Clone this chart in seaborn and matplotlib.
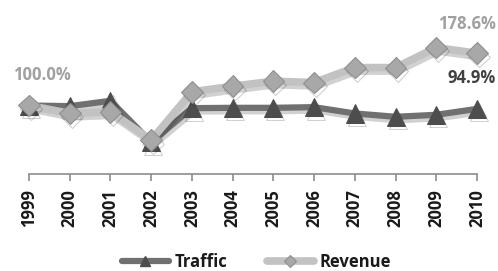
import matplotlib
matplotlib.use("Agg")
import matplotlib.pyplot as plt
import matplotlib.patheffects as pe
from matplotlib.lines import Line2D
import seaborn as sns
import pandas as pd

years = [1999, 2000, 2001, 2002, 2003, 2004, 2005, 2006, 2007, 2008, 2009, 2010]
traffic = [100.0, 99.0, 107.0, 45.0, 96.0, 96.5, 96.5, 97.5, 88.0, 83.0, 86.0, 94.9]
revenue = [100.0, 88.0, 90.5, 48.0, 120.5, 129.0, 136.5, 134.5, 157.0, 157.0, 187.0, 178.6]
labels = {"first": "100.0%", "rev_last": "178.6%", "traf_last": "94.9%"}

sns.set_theme(style="white")
plt.rcParams['font.family'] = ['Open Sans', 'DejaVu Sans']

df = pd.DataFrame({"Year": years * 2,
                   "Value": traffic + revenue,
                   "Series": ["Traffic"] * len(years) + ["Revenue"] * len(years)})

fig = plt.figure(figsize=(4.98, 2.71), dpi=100)
ax = fig.add_axes([29 / 498, 1 - 174 / 271, (477 - 29) / 498, 174 / 271])

shadow = [pe.SimpleLineShadow(offset=(1.5, -2.5), shadow_color='k', alpha=0.2), pe.Normal()]

t_style = dict(color="#707070", linewidth=4.5, marker="^",
               markerfacecolor="#4d4d4d", markeredgecolor="#4d4d4d")
r_style = dict(color="#c2c2c2", linewidth=5.5, marker="D",
               markerfacecolor="#a8a8a8", markeredgecolor="#8f8f8f", markeredgewidth=0.8)

sns.lineplot(data=df[df.Series == "Traffic"], x="Year", y="Value", ax=ax,
             markersize=13, zorder=2, **t_style)
sns.lineplot(data=df[df.Series == "Revenue"], x="Year", y="Value", ax=ax,
             markersize=11, zorder=3, **r_style)
for ln in ax.get_lines():
    ln.set_path_effects(shadow)
    ln.set_clip_on(False)

ax.set_xlim(1999, 2010)
ax.set_ylim(-3, 258.6)
ax.set_xticks(years)
ax.set_xticklabels([str(y) for y in years], rotation=90, fontsize=12,
                   fontweight="bold", color="#1a1a1a")
ax.set_yticks([])
ax.set_xlabel("")
ax.set_ylabel("")
for s in ["top", "right", "left"]:
    ax.spines[s].set_visible(False)
ax.spines["bottom"].set_color("#8c8c8c")
ax.spines["bottom"].set_linewidth(1.2)
ax.tick_params(axis="x", bottom=True, length=5, width=1.2, color="#8c8c8c", pad=6)

ax.annotate(labels["first"], xy=(years[0], revenue[0]), xytext=(9, 22),
            textcoords="offset points", ha="center", va="center",
            fontsize=12, fontweight="bold", color="#a0a0a0")
ax.annotate(labels["rev_last"], xy=(years[-1], revenue[-1]), xytext=(-7, 21),
            textcoords="offset points", ha="center", va="center",
            fontsize=12, fontweight="bold", color="#a0a0a0")
ax.annotate(labels["traf_last"], xy=(years[-1], traffic[-1]), xytext=(-4, 22),
            textcoords="offset points", ha="center", va="center",
            fontsize=12, fontweight="bold", color="#404040")

handles = [Line2D([], [], markersize=7, **t_style),
           Line2D([], [], markersize=6, **r_style)]
leg = fig.legend(handles, ["Traffic", "Revenue"], loc="center",
                 bbox_to_anchor=(0.515, 9 / 271),
                 ncol=2, frameon=False, handlelength=2.8, columnspacing=2.4,
                 handletextpad=0.35, prop={"weight": "bold", "size": 12})
for t in leg.get_texts():
    t.set_color("#1a1a1a")

fig.savefig("out.png", dpi=100)
